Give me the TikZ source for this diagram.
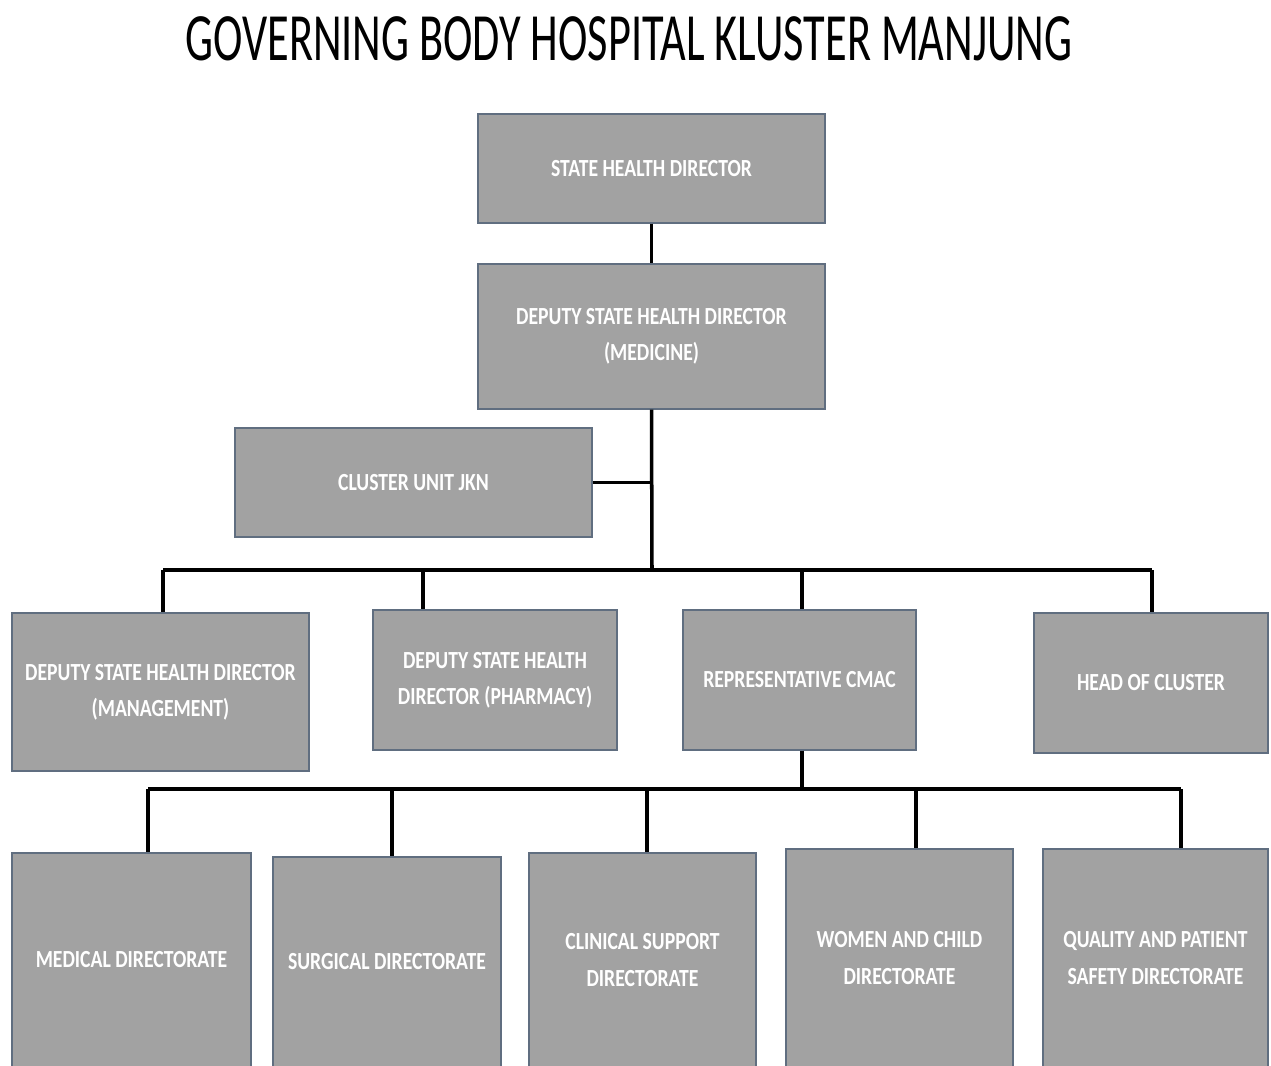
\documentclass[tikz,border=0pt]{standalone}
\usepackage{fontspec}
\setmainfont{Carlito}
\newfontfamily\titlefont[FakeStretch=0.655]{Carlito}
\newfontfamily\boxfont[FakeStretch=0.8]{Carlito}
\usetikzlibrary{calc,positioning}
\definecolor{boxgray}{RGB}{162,162,162}
\definecolor{boxedge}{RGB}{96,110,128}
\tikzset{
  orgbox/.style={draw=boxedge, line width=0.8pt, fill=boxgray, text=white,
    align=center, inner sep=0pt, font=\boxfont\bfseries\fontsize{14}{20.5}\selectfont},
  link/.style={line width=2pt, black}
}
\begin{document}
\begin{tikzpicture}[x=0.02cm, y=-0.02cm]
\clip (0,0) rectangle (1271,1065);
\fill[white] (0,0) rectangle (1271,1065);
\node (title) at (629,39) {\titlefont\fontsize{38.5}{40}\selectfont GOVERNING BODY HOSPITAL KLUSTER MANJUNG};
%top of the chart
\node[orgbox, minimum width=347*0.02cm, minimum height=109*0.02cm] (shd) at (651.5,168.5) {STATE HEALTH DIRECTOR};
\node[orgbox, minimum width=347*0.02cm, minimum height=145*0.02cm] (dshdmed) at (651.5,336.5) {DEPUTY STATE HEALTH DIRECTOR\\(MEDICINE)};
\node[orgbox, minimum width=357*0.02cm, minimum height=109*0.02cm] (cluster) at (413.5,482.5) {CLUSTER UNIT JKN};
%second row
\node[orgbox, minimum width=297*0.02cm, minimum height=158*0.02cm] (dshdmgmt) at (160.5,692) {DEPUTY STATE HEALTH DIRECTOR\\(MANAGEMENT)};
\node[orgbox, minimum width=244*0.02cm, minimum height=140*0.02cm] (dshdphar) at (495,680) {DEPUTY STATE HEALTH\\DIRECTOR (PHARMACY)};
\node[orgbox, minimum width=233*0.02cm, minimum height=140*0.02cm] (cmac) at (799.5,680) {REPRESENTATIVE CMAC};
\node[orgbox, minimum width=234*0.02cm, minimum height=140*0.02cm] (hoc) at (1151,683) {HEAD OF CLUSTER};
%directorates
\node[orgbox, minimum width=239*0.02cm, minimum height=214*0.02cm] (meddir) at (131.5,960) {MEDICAL DIRECTORATE};
\node[orgbox, minimum width=228*0.02cm, minimum height=210*0.02cm] (surgdir) at (387,962) {SURGICAL DIRECTORATE};
\node[orgbox, minimum width=227*0.02cm, minimum height=214*0.02cm] (clindir) at (642.5,960) {CLINICAL SUPPORT\\DIRECTORATE};
\node[orgbox, minimum width=227*0.02cm, minimum height=218*0.02cm] (wcdir) at (899.5,958) {WOMEN AND CHILD\\DIRECTORATE};
\node[orgbox, minimum width=225*0.02cm, minimum height=218*0.02cm] (qpsdir) at (1155.5,958) {QUALITY AND PATIENT\\SAFETY DIRECTORATE};
\coordinate (bus1) at (652,570);
\coordinate (bus2) at (802,789);
%connectors
\draw[link] (shd) -- (dshdmed);
\draw[link] (dshdmed.south) -- (bus1);
\draw[link] (cluster.east) -- (cluster.east -| bus1);
\draw[link] (bus1 -| 163,0) -- (bus1 -| 1152,0);
\foreach \n/\x in {dshdmgmt/163, dshdphar/423, cmac/802, hoc/1152}
  \draw[link] (bus1 -| \x,0) -- (\n.north -| \x,0);
\draw[link] (cmac.south -| bus2) -- (bus2);
\draw[link] (bus2 -| 148,0) -- (bus2 -| 1181,0);
\foreach \n/\x in {meddir/148, surgdir/392, clindir/647, wcdir/916, qpsdir/1181}
  \draw[link] (bus2 -| \x,0) -- (\n.north -| \x,0);
\end{tikzpicture}
\end{document}
